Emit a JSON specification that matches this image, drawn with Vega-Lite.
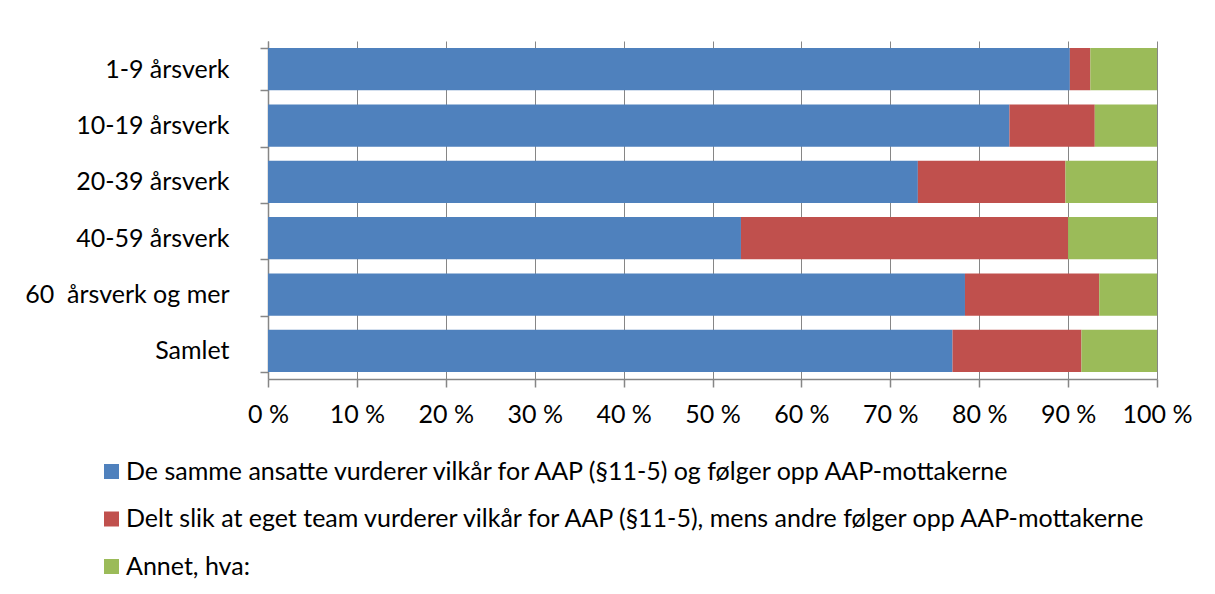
{
  "$schema": "https://vega.github.io/schema/vega-lite/v6.json",
  "width": 889,
  "height": 338,
  "autosize": {"type": "none"},
  "padding": {"left": 268, "top": 41, "right": 58, "bottom": 215},
  "background": "white",
  "config": {
    "font": "Lato",
    "view": {"stroke": null},
    "axis": {"labelFont": "Lato", "labelColor": "#000000", "labelFontSize": 25, "domainColor": "#868686", "tickColor": "#868686", "gridColor": "#868686"}
  },
  "data": {
    "values": [
      {"group": "1-9 årsverk", "kat": "De samme ansatte vurderer vilkår for AAP (§11-5) og følger opp AAP-mottakerne", "k": 1, "pct": 90.2},
      {"group": "1-9 årsverk", "kat": "Delt slik at eget team vurderer vilkår for AAP (§11-5), mens andre følger opp AAP-mottakerne", "k": 2, "pct": 2.3},
      {"group": "1-9 årsverk", "kat": "Annet, hva:", "k": 3, "pct": 7.5},
      {"group": "10-19 årsverk", "kat": "De samme ansatte vurderer vilkår for AAP (§11-5) og følger opp AAP-mottakerne", "k": 1, "pct": 83.4},
      {"group": "10-19 årsverk", "kat": "Delt slik at eget team vurderer vilkår for AAP (§11-5), mens andre følger opp AAP-mottakerne", "k": 2, "pct": 9.6},
      {"group": "10-19 årsverk", "kat": "Annet, hva:", "k": 3, "pct": 7.0},
      {"group": "20-39 årsverk", "kat": "De samme ansatte vurderer vilkår for AAP (§11-5) og følger opp AAP-mottakerne", "k": 1, "pct": 73.1},
      {"group": "20-39 årsverk", "kat": "Delt slik at eget team vurderer vilkår for AAP (§11-5), mens andre følger opp AAP-mottakerne", "k": 2, "pct": 16.6},
      {"group": "20-39 årsverk", "kat": "Annet, hva:", "k": 3, "pct": 10.3},
      {"group": "40-59 årsverk", "kat": "De samme ansatte vurderer vilkår for AAP (§11-5) og følger opp AAP-mottakerne", "k": 1, "pct": 53.2},
      {"group": "40-59 årsverk", "kat": "Delt slik at eget team vurderer vilkår for AAP (§11-5), mens andre følger opp AAP-mottakerne", "k": 2, "pct": 36.8},
      {"group": "40-59 årsverk", "kat": "Annet, hva:", "k": 3, "pct": 10.0},
      {"group": "60\u00a0 årsverk og mer", "kat": "De samme ansatte vurderer vilkår for AAP (§11-5) og følger opp AAP-mottakerne", "k": 1, "pct": 78.4},
      {"group": "60\u00a0 årsverk og mer", "kat": "Delt slik at eget team vurderer vilkår for AAP (§11-5), mens andre følger opp AAP-mottakerne", "k": 2, "pct": 15.1},
      {"group": "60\u00a0 årsverk og mer", "kat": "Annet, hva:", "k": 3, "pct": 6.5},
      {"group": "Samlet", "kat": "De samme ansatte vurderer vilkår for AAP (§11-5) og følger opp AAP-mottakerne", "k": 1, "pct": 77.0},
      {"group": "Samlet", "kat": "Delt slik at eget team vurderer vilkår for AAP (§11-5), mens andre følger opp AAP-mottakerne", "k": 2, "pct": 14.5},
      {"group": "Samlet", "kat": "Annet, hva:", "k": 3, "pct": 8.5}
    ]
  },
  "mark": {"type": "bar"},
  "encoding": {
    "y": {
      "field": "group", "type": "nominal", "sort": null, "title": null,
      "scale": {"paddingInner": 0.25, "paddingOuter": 0.125},
      "axis": {"tickBand": "extent", "tickSize": 8, "labelPadding": 31, "domainWidth": 1.5, "tickWidth": 1.5, "labelLimit": 400}
    },
    "x": {
      "field": "pct", "type": "quantitative", "stack": "zero", "title": null,
      "scale": {"domain": [0, 100], "nice": false},
      "axis": {"values": [0,10,20,30,40,50,60,70,80,90,100], "labelExpr": "datum.value + ' %'", "tickSize": 8, "labelPadding": 15, "grid": true, "gridWidth": 1, "domainWidth": 1.5, "tickWidth": 1.5, "labelFlush": false}
    },
    "order": {"field": "k", "type": "quantitative"},
    "color": {
      "field": "kat", "type": "nominal", "title": null,
      "scale": {
        "domain": ["De samme ansatte vurderer vilkår for AAP (§11-5) og følger opp AAP-mottakerne", "Delt slik at eget team vurderer vilkår for AAP (§11-5), mens andre følger opp AAP-mottakerne", "Annet, hva:"],
        "range": ["#4F81BD", "#C0504D", "#9BBB59"]
      },
      "legend": {
        "orient": "none", "legendX": -169, "legendY": 418, "direction": "vertical",
        "symbolType": "square", "symbolSize": 225, "symbolStrokeWidth": 0,
        "labelFont": "Lato", "labelFontSize": 25, "labelColor": "#000000", "labelLimit": 1200,
        "labelOffset": 2, "rowPadding": 21.5
      }
    }
  }
}
